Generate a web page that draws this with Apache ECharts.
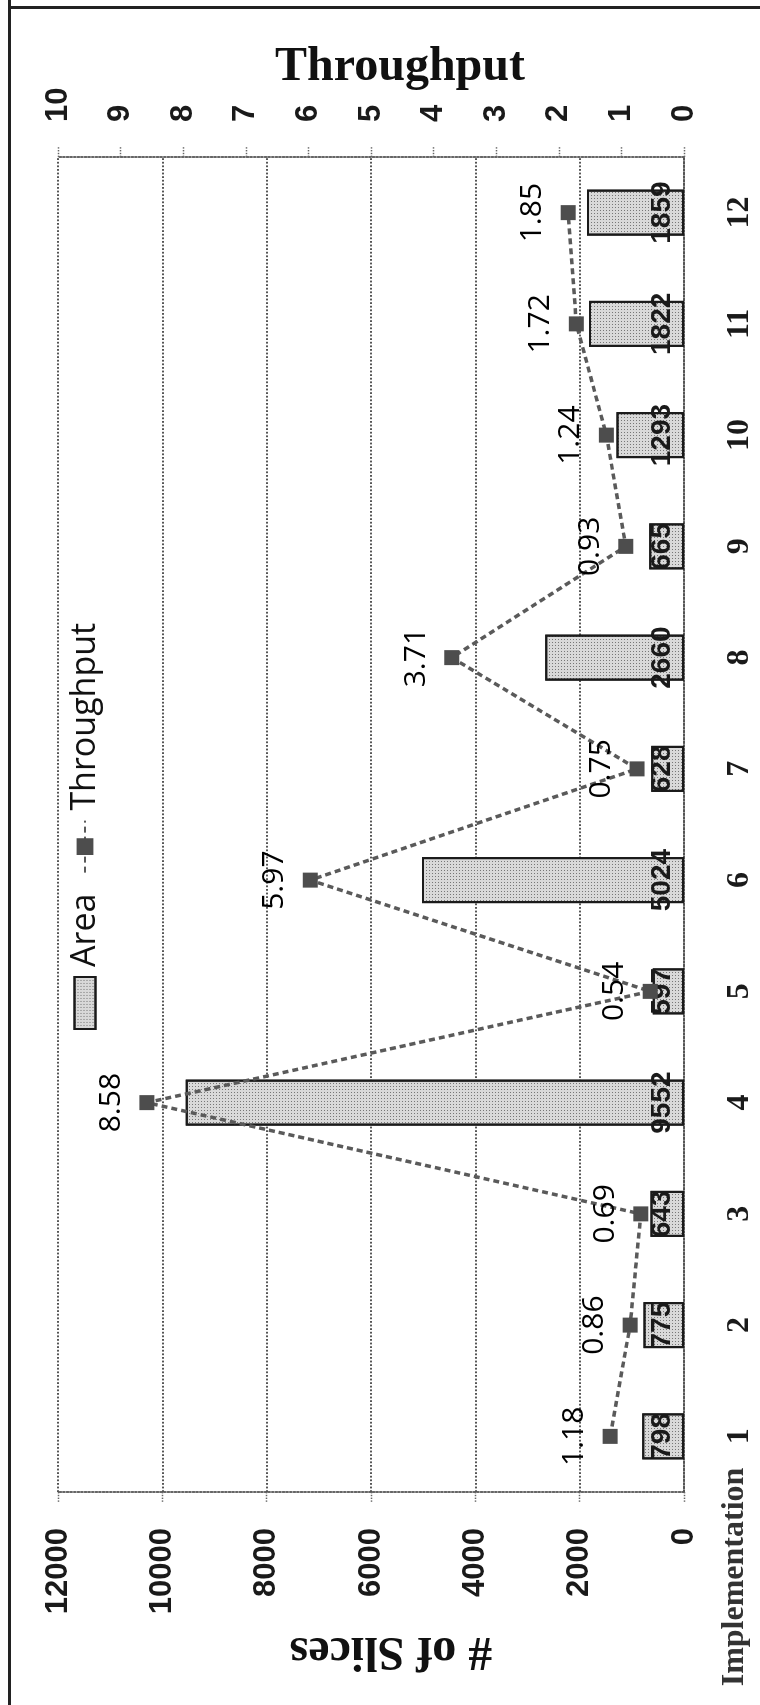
<!DOCTYPE html>
<html>
<head>
<meta charset="utf-8">
<script src="https://cdn.jsdelivr.net/npm/echarts@6/dist/echarts.min.js"></script>
<style>
html,body{margin:0;padding:0;background:#fff;}
#wrap{position:absolute;left:0;top:0;width:760px;height:1705px;overflow:hidden;background:#fff;}
#chart{position:absolute;left:0;top:0;width:1705px;height:760px;transform-origin:0 0;transform:translate(0,1705px) rotate(-90deg);}
</style>
</head>
<body>
<div id="wrap"><div id="chart"></div></div>
<script>
// Data
const categories = ['1','2','3','4','5','6','7','8','9','10','11','12'];
const areaValues = [798, 775, 643, 9552, 597, 5024, 628, 2660, 665, 1293, 1822, 1859];
const throughputValues = [1.18, 0.86, 0.69, 8.58, 0.54, 5.97, 0.75, 3.71, 0.93, 1.24, 1.72, 1.85];
const slicesTicks = {min: 0, max: 12000, interval: 2000};
const throughputTicks = {min: 0, max: 10, interval: 1};
const seriesNames = ['Area', 'Throughput'];
const axisTitles = {slices: '# of Slices', throughput: 'Throughput', x: 'Implementation'};

const chart = echarts.init(document.getElementById('chart'), null, {width: 1705, height: 760});
const dotted = {color: '#555', type: 'dotted', width: 1.8};
const tickFont = {fontFamily: 'Liberation Sans', fontWeight: 'bold', fontSize: 31, color: '#1a1a1a'};

chart.setOption({
  backgroundColor: '#fff',
  animation: false,
  grid: {left: 213, right: 157, top: 58, bottom: 76, containLabel: false},
  legend: {
    data: [{name: seriesNames[0], icon: 'path://M0,0L52,0L52,21L0,21Z'}, {name: seriesNames[1]}],
    left: 675, top: 68, padding: 0,
    itemWidth: 52, itemHeight: 21, itemGap: 20,
    symbolKeepAspect: false,
    textStyle: {fontFamily: 'Open Sans', fontSize: 34, color: '#111', padding: [0,0,0,5]}
  },
  xAxis: {
    type: 'category',
    data: categories,
    axisLine: {show: true, lineStyle: dotted},
    axisTick: {show: false},
    splitLine: {show: false},
    axisLabel: {margin: 40, fontFamily: 'Liberation Serif', fontWeight: 'bold', fontSize: 32, color: '#1a1a1a'}
  },
  yAxis: [
    {
      type: 'value', position: 'left',
      min: slicesTicks.min, max: slicesTicks.max, interval: slicesTicks.interval,
      axisLine: {show: true, lineStyle: dotted},
      axisTick: {show: true, length: 10, inside: false, lineStyle: {color: '#666', width: 1.4, type: 'dotted'}},
      axisLabel: Object.assign({margin: 36, formatter: v => String(v)}, tickFont),
      splitLine: {show: true, lineStyle: {color: '#555', type: 'dotted', width: 1.8}}
    },
    {
      type: 'value', position: 'right',
      min: throughputTicks.min, max: throughputTicks.max, interval: throughputTicks.interval,
      axisLine: {show: true, lineStyle: dotted},
      axisTick: {show: true, length: 10, inside: false, lineStyle: {color: '#666', width: 1.4, type: 'dotted'}},
      axisLabel: Object.assign({margin: 35, formatter: v => String(v)}, tickFont),
      splitLine: {show: false}
    }
  ],
  series: [
    {
      name: seriesNames[0],
      type: 'bar',
      yAxisIndex: 0,
      data: areaValues,
      barWidth: 46,
      itemStyle: {
        color: '#d9d9d9', borderColor: '#1a1a1a', borderWidth: 2,
        decal: {symbol: 'rect', symbolSize: 1, color: 'rgba(0,0,0,0.45)', dashArrayX: [1, 2], dashArrayY: [1, 2], rotation: 0}
      },
      label: {
        show: true, position: 'insideBottom', distance: 8,
        fontFamily: 'Liberation Sans', fontWeight: 'bold', fontSize: 28, color: '#1a1a1a'
      }
    },
    {
      name: seriesNames[1],
      type: 'line',
      yAxisIndex: 1,
      data: throughputValues,
      symbol: 'rect',
      symbolSize: 15,
      itemStyle: {color: '#4d4d4d'},
      lineStyle: {color: '#5a5a5a', width: 3.5, type: [6, 4]},
      label: {
        show: true, position: 'top', distance: 13,
        fontFamily: 'Open Sans', fontSize: 30, color: '#000',
        formatter: p => p.value.toFixed(2)
      }
    }
  ],
  graphic: [
    {type: 'line', shape: {x1: 0, y1: 9.5, x2: 1705, y2: 9.5}, style: {stroke: '#222', lineWidth: 3}},
    {type: 'line', shape: {x1: 1697.5, y1: 9.5, x2: 1697.5, y2: 760}, style: {stroke: '#222', lineWidth: 3}},
    {type: 'text', x: 1637, y: 400, rotation: -Math.PI / 2,
      style: {text: axisTitles.throughput, font: 'bold 48px "Liberation Serif"', fill: '#111', textAlign: 'center', textVerticalAlign: 'middle'}},
    {type: 'text', x: 55, y: 391, rotation: Math.PI / 2,
      style: {text: axisTitles.slices, font: 'bold 48px "Liberation Serif"', fill: '#111', textAlign: 'center', textVerticalAlign: 'middle'}},
    {type: 'text', x: 128, y: 735, rotation: 0,
      style: {text: axisTitles.x, font: 'bold 32px "Liberation Serif"', fill: '#333', textAlign: 'center', textVerticalAlign: 'middle'}}
  ]
});
</script>
</body>
</html>
